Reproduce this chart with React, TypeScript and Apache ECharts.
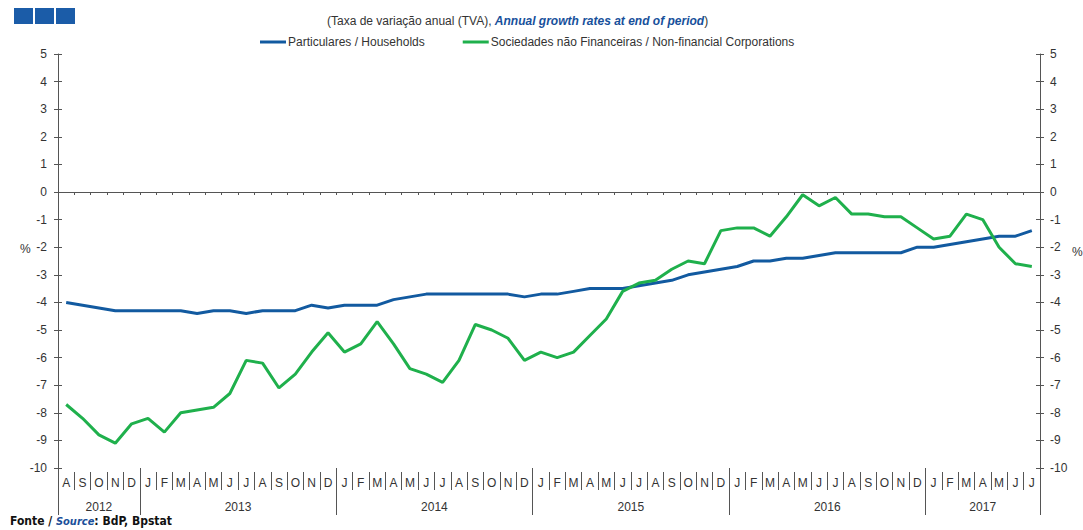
import React, { useEffect, useRef } from "react";
import * as echarts from "echarts";

const monthLetters = ["J", "F", "M", "A", "M", "J", "J", "A", "S", "O", "N", "D"];
const startYear = 2012;
const startMonth = 7; // August (0-based)
const pointCount = 60;

const categories: string[] = [];
const categoryLetters: string[] = [];
for (let i = 0; i < pointCount; i++) {
  const m = (startMonth + i) % 12;
  const y = startYear + Math.floor((startMonth + i) / 12);
  categories.push(`${y}-${String(m + 1).padStart(2, "0")}`);
  categoryLetters.push(monthLetters[m]);
}

const years = ["2012", "2013", "2014", "2015", "2016", "2017"];
const yearLabelPositions = [2.5, 11, 23, 35, 47, 56.5];
const yearBoundaries = [0, 5, 17, 29, 41, 53, 60];

const households = [
  -4.0, -4.1, -4.2, -4.3, -4.3,
  -4.3, -4.3, -4.3, -4.4, -4.3, -4.3, -4.4, -4.3, -4.3, -4.3, -4.1, -4.2,
  -4.1, -4.1, -4.1, -3.9, -3.8, -3.7, -3.7, -3.7, -3.7, -3.7, -3.7, -3.8,
  -3.7, -3.7, -3.6, -3.5, -3.5, -3.5, -3.4, -3.3, -3.2, -3.0, -2.9, -2.8,
  -2.7, -2.5, -2.5, -2.4, -2.4, -2.3, -2.2, -2.2, -2.2, -2.2, -2.2, -2.0,
  -2.0, -1.9, -1.8, -1.7, -1.6, -1.6, -1.4,
];

const nonFinancial = [
  -7.7, -8.2, -8.8, -9.1, -8.4,
  -8.2, -8.7, -8.0, -7.9, -7.8, -7.3, -6.1, -6.2, -7.1, -6.6, -5.8, -5.1,
  -5.8, -5.5, -4.7, -5.5, -6.4, -6.6, -6.9, -6.1, -4.8, -5.0, -5.3, -6.1,
  -5.8, -6.0, -5.8, -5.2, -4.6, -3.6, -3.3, -3.2, -2.8, -2.5, -2.6, -1.4,
  -1.3, -1.3, -1.6, -0.9, -0.1, -0.5, -0.2, -0.8, -0.8, -0.9, -0.9, -1.3,
  -1.7, -1.6, -0.8, -1.0, -2.0, -2.6, -2.7,
];

const FONT = "'Liberation Sans', Arial, sans-serif";
const NARROW = "'Liberation Sans Narrow', 'DejaVu Sans Condensed', Arial, sans-serif";
const AXIS = "#555555";
const TEXT = "#333333";
const BLUE = "#125aa0";
const GREEN = "#1fb04c";

export default function App() {
  const ref = useRef<HTMLDivElement>(null);
  useEffect(() => {
    if (!ref.current) return;
    const chart = echarts.init(ref.current, null, { renderer: "svg" });
    const yBase = {
      type: "value",
      min: -10,
      max: 5,
      interval: 1,
      splitLine: { show: false },
    };
    chart.setOption({
      animation: false,
      textStyle: { fontFamily: FONT },
      title: {
        left: 322,
        top: 10,
        text: "{a|(Taxa de variação anual (TVA), }{b|Annual growth rates at end of period}{a|)}",
        textStyle: {
          fontWeight: "normal",
          fontSize: 12,
          rich: {
            a: { fontSize: 12, color: TEXT, fontWeight: "normal", fontFamily: FONT },
            b: { fontSize: 12, color: "#17509b", fontWeight: "bold", fontStyle: "italic", fontFamily: FONT },
          },
        },
      },
      legend: {
        top: 31,
        left: 255,
        itemGap: 38,
        itemWidth: 26,
        itemHeight: 3,
        icon: "rect",
        textStyle: { fontSize: 12, color: TEXT, fontFamily: FONT, padding: [0, 0, 0, -3] },
        data: ["Particulares / Households", "Sociedades não Financeiras / Non-financial Corporations"],
      },
      grid: { left: 58, right: 43, top: 54, bottom: 62, containLabel: false },
      xAxis: [
        {
          type: "category",
          data: categories,
          boundaryGap: true,
          position: "bottom",
          offset: 4,
          axisLine: { show: false, onZero: false },
          axisTick: { show: true, interval: 0, length: 18, lineStyle: { color: AXIS } },
          axisLabel: {
            interval: 0,
            margin: 5,
            fontSize: 12,
            color: TEXT,
            fontFamily: FONT,
            formatter: (_v: string, idx: number) => categoryLetters[idx],
          },
          splitLine: { show: false },
        },
        {
          type: "category",
          data: categories,
          boundaryGap: true,
          position: "top",
          axisLine: { show: true, onZero: true, lineStyle: { color: AXIS } },
          axisTick: { show: true, interval: 0, inside: true, length: 3, lineStyle: { color: AXIS } },
          axisLabel: { show: false },
          splitLine: { show: false },
        },
        {
          type: "value",
          min: 0,
          max: 60,
          position: "bottom",
          axisLine: { show: false, onZero: false },
          axisTick: { show: true, length: 47, customValues: yearBoundaries, lineStyle: { color: AXIS } },
          axisLabel: {
            show: true,
            customValues: yearLabelPositions,
            margin: 33,
            fontSize: 12,
            color: TEXT,
            fontFamily: FONT,
            formatter: (v: number) => {
              const k = yearLabelPositions.indexOf(v);
              return k >= 0 ? years[k] : "";
            },
          },
          splitLine: { show: false },
        },
      ],
      yAxis: [
        {
          ...yBase,
          position: "left",
          axisLine: { show: true, lineStyle: { color: AXIS } },
          axisTick: { show: true, length: 4, lineStyle: { color: AXIS } },
          axisLabel: { margin: 11, fontSize: 12, color: TEXT, fontFamily: FONT },
        },
        {
          ...yBase,
          position: "right",
          axisLine: { show: true, lineStyle: { color: AXIS } },
          axisTick: { show: true, length: 4, lineStyle: { color: AXIS } },
          axisLabel: { margin: 10, fontSize: 12, color: TEXT, fontFamily: FONT },
        },
        {
          ...yBase,
          position: "left",
          axisLine: { show: false },
          axisTick: { show: true, inside: true, length: 4, lineStyle: { color: AXIS } },
          axisLabel: { show: false },
        },
        {
          ...yBase,
          position: "right",
          axisLine: { show: false },
          axisTick: { show: true, inside: true, length: 4, lineStyle: { color: AXIS } },
          axisLabel: { show: false },
        },
      ],
      series: [
        {
          name: "Particulares / Households",
          type: "line",
          xAxisIndex: 0,
          yAxisIndex: 0,
          data: households,
          symbol: "none",
          color: BLUE,
          lineStyle: { width: 3, color: BLUE },
        },
        {
          name: "Sociedades não Financeiras / Non-financial Corporations",
          type: "line",
          xAxisIndex: 0,
          yAxisIndex: 0,
          data: nonFinancial,
          symbol: "none",
          color: GREEN,
          lineStyle: { width: 3, color: GREEN },
        },
      ],
      graphic: [
        { type: "rect", left: 14, top: 8, shape: { width: 19, height: 16 }, style: { fill: "#1b5ca8" } },
        { type: "rect", left: 35, top: 8, shape: { width: 19, height: 16 }, style: { fill: "#1b5ca8" } },
        { type: "rect", left: 56, top: 8, shape: { width: 19, height: 16 }, style: { fill: "#1b5ca8" } },
        {
          type: "text",
          left: 20,
          top: 243,
          style: { text: "%", fontSize: 12, fill: TEXT, fontFamily: FONT },
        },
        {
          type: "text",
          left: 1072,
          top: 246,
          style: { text: "%", fontSize: 12, fill: TEXT, fontFamily: FONT },
        },
        {
          type: "text",
          left: 10,
          top: 515,
          style: {
            text: "{a|Fonte / }{b|Source}{a|: BdP, Bpstat}",
            rich: {
              a: { fontSize: 12, fontWeight: "bold", fill: "#111", fontFamily: NARROW },
              b: { fontSize: 11, fontWeight: "bold", fontStyle: "italic", fill: "#1b4f9a", fontFamily: NARROW },
            },
          },
        },
      ],
    });
    return () => chart.dispose();
  }, []);
  return (
    <div
      ref={ref}
      style={{ position: "absolute", left: 0, top: 0, width: 1083, height: 530, background: "#fff" }}
    />
  );
}
